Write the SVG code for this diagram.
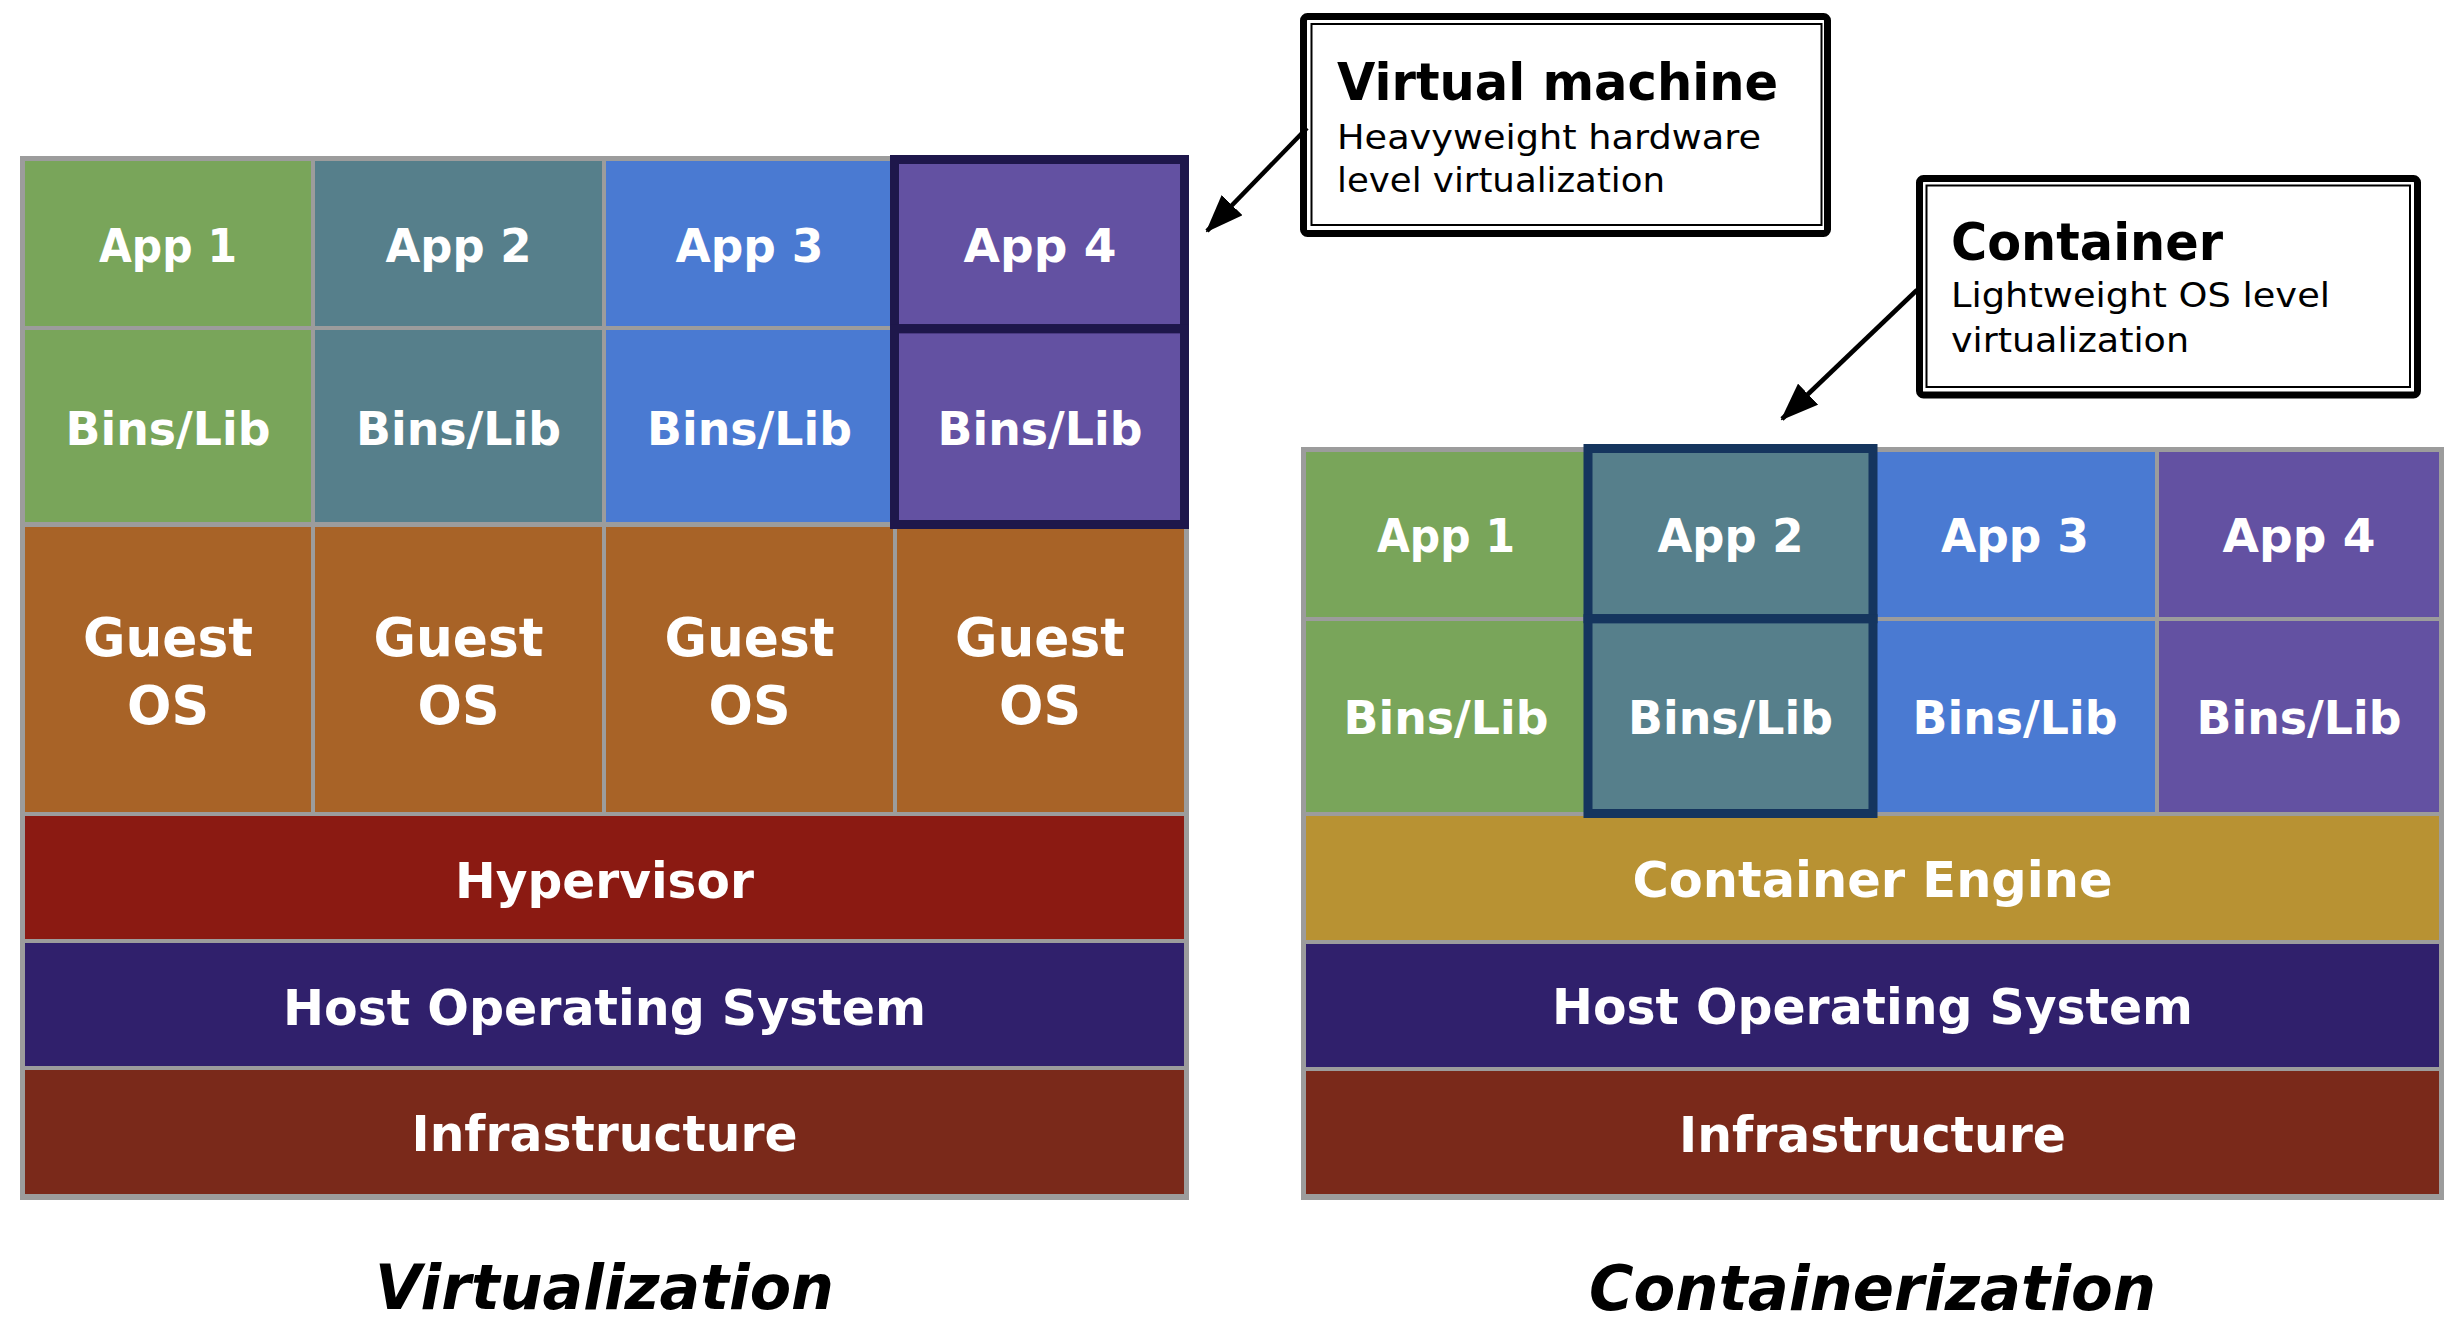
<svg xmlns="http://www.w3.org/2000/svg" width="2463" height="1328" viewBox="0 0 2463 1328">
<style>
.lbl{font-family:"DejaVu Sans","Liberation Sans",sans-serif;font-weight:bold;fill:#fff;text-anchor:middle}
.s47{font-size:47px}
.s53{font-size:53px}
.s50{font-size:50px}
.title{font-family:"DejaVu Sans","Liberation Sans",sans-serif;font-weight:bold;font-style:italic;font-size:62px;fill:#000;text-anchor:middle}
.ch{font-family:"DejaVu Sans","Liberation Sans",sans-serif;font-weight:bold;font-size:51px;fill:#000}
.cs{font-family:"DejaVu Sans","Liberation Sans",sans-serif;font-weight:normal;font-size:34px;fill:#000}
.grid{fill:#9c9c9c}
.green{fill:#79a55a}.teal{fill:#567f8b}.blue{fill:#4a7ad2}.purple{fill:#6351a2}
.guest{fill:#a86327}.hyp{fill:#8b1a12}.host{fill:#30206c}.infra{fill:#7a291a}.engine{fill:#b89233}
.hlA{fill:none;stroke:#1e174b;stroke-width:9}
.hlB{fill:none;stroke:#15355e;stroke-width:9}
.boxO{fill:#fff;stroke:#000;stroke-width:7}
.boxI{fill:none;stroke:#000;stroke-width:2}
.conn{fill:none;stroke:#000;stroke-width:4.5}
</style>
<defs>
<marker id="ah" viewBox="0 0 38 29" refX="36" refY="14.5" markerWidth="38" markerHeight="29" markerUnits="userSpaceOnUse" orient="auto">
<path d="M0,0 L38,14.5 L0,29 Z" fill="#000"/>
</marker>
</defs>
<rect width="2463" height="1328" fill="#fff"/>

<!-- Virtualization stack -->
<g id="virtualization">
<rect class="grid" x="20" y="156" width="1169" height="1044"/>
<g id="vm-app1"><rect class="green" x="25" y="161" width="286" height="165"/><text class="lbl s47" x="168" y="261.5" textLength="138" lengthAdjust="spacingAndGlyphs">App 1</text></g>
<g id="vm-app2"><rect class="teal" x="315" y="161" width="287" height="165"/><text class="lbl s47" x="458.5" y="261.5" textLength="146" lengthAdjust="spacingAndGlyphs">App 2</text></g>
<g id="vm-app3"><rect class="blue" x="606" y="161" width="287" height="165"/><text class="lbl s47" x="749.5" y="261.5" textLength="148" lengthAdjust="spacingAndGlyphs">App 3</text></g>
<g id="vm-app4"><rect class="purple" x="897" y="161" width="287" height="165"/><text class="lbl s47" x="1040" y="261.5" textLength="153" lengthAdjust="spacingAndGlyphs">App 4</text></g>
<g id="vm-bins1"><rect class="green" x="25" y="330" width="286" height="192"/><text class="lbl s47" x="168" y="445" textLength="205" lengthAdjust="spacingAndGlyphs">Bins/Lib</text></g>
<g id="vm-bins2"><rect class="teal" x="315" y="330" width="287" height="192"/><text class="lbl s47" x="458.5" y="445" textLength="205" lengthAdjust="spacingAndGlyphs">Bins/Lib</text></g>
<g id="vm-bins3"><rect class="blue" x="606" y="330" width="287" height="192"/><text class="lbl s47" x="749.5" y="445" textLength="205" lengthAdjust="spacingAndGlyphs">Bins/Lib</text></g>
<g id="vm-bins4"><rect class="purple" x="897" y="330" width="287" height="192"/><text class="lbl s47" x="1040" y="445" textLength="205" lengthAdjust="spacingAndGlyphs">Bins/Lib</text></g>
<g id="vm-guest1"><rect class="guest" x="25" y="527" width="286" height="285"/><text class="lbl s53" x="168" y="655.5" textLength="170" lengthAdjust="spacingAndGlyphs">Guest</text><text class="lbl s53" x="168" y="724" textLength="82" lengthAdjust="spacingAndGlyphs">OS</text></g>
<g id="vm-guest2"><rect class="guest" x="315" y="527" width="287" height="285"/><text class="lbl s53" x="458.5" y="655.5" textLength="170" lengthAdjust="spacingAndGlyphs">Guest</text><text class="lbl s53" x="458.5" y="724" textLength="82" lengthAdjust="spacingAndGlyphs">OS</text></g>
<g id="vm-guest3"><rect class="guest" x="606" y="527" width="287" height="285"/><text class="lbl s53" x="749.5" y="655.5" textLength="170" lengthAdjust="spacingAndGlyphs">Guest</text><text class="lbl s53" x="749.5" y="724" textLength="82" lengthAdjust="spacingAndGlyphs">OS</text></g>
<g id="vm-guest4"><rect class="guest" x="897" y="527" width="287" height="285"/><text class="lbl s53" x="1040" y="655.5" textLength="170" lengthAdjust="spacingAndGlyphs">Guest</text><text class="lbl s53" x="1040" y="724" textLength="82" lengthAdjust="spacingAndGlyphs">OS</text></g>
<g id="vm-hypervisor"><rect class="hyp" x="25" y="816" width="1159" height="123"/><text class="lbl s50" x="604.5" y="898" textLength="299" lengthAdjust="spacingAndGlyphs">Hypervisor</text></g>
<g id="vm-host"><rect class="host" x="25" y="943" width="1159" height="123"/><text class="lbl s50" x="604.5" y="1024.5" textLength="643" lengthAdjust="spacingAndGlyphs">Host Operating System</text></g>
<g id="vm-infra"><rect class="infra" x="25" y="1070" width="1159" height="124"/><text class="lbl s50" x="604.5" y="1151" textLength="386" lengthAdjust="spacingAndGlyphs">Infrastructure</text></g>
<g id="vm-highlight"><rect class="hlA" x="894.5" y="159.5" width="290" height="169.2"/><rect class="hlA" x="894.5" y="328.7" width="290" height="195.8"/></g>
<text class="title" x="604.5" y="1308.5" textLength="459" lengthAdjust="spacingAndGlyphs">Virtualization</text>
</g>

<!-- Containerization stack -->
<g id="containerization">
<rect class="grid" x="1301" y="447" width="1143" height="753"/>
<g id="ct-app1"><rect class="green" x="1306" y="452" width="280" height="165"/><text class="lbl s47" x="1446" y="551.7" textLength="138" lengthAdjust="spacingAndGlyphs">App 1</text></g>
<g id="ct-app2"><rect class="teal" x="1590" y="452" width="281" height="165"/><text class="lbl s47" x="1730.5" y="551.7" textLength="146" lengthAdjust="spacingAndGlyphs">App 2</text></g>
<g id="ct-app3"><rect class="blue" x="1875" y="452" width="280" height="165"/><text class="lbl s47" x="2015" y="551.7" textLength="148" lengthAdjust="spacingAndGlyphs">App 3</text></g>
<g id="ct-app4"><rect class="purple" x="2159" y="452" width="280" height="165"/><text class="lbl s47" x="2299" y="551.7" textLength="153" lengthAdjust="spacingAndGlyphs">App 4</text></g>
<g id="ct-bins1"><rect class="green" x="1306" y="621" width="280" height="191"/><text class="lbl s47" x="1446" y="733.7" textLength="205" lengthAdjust="spacingAndGlyphs">Bins/Lib</text></g>
<g id="ct-bins2"><rect class="teal" x="1590" y="621" width="281" height="191"/><text class="lbl s47" x="1730.5" y="733.7" textLength="205" lengthAdjust="spacingAndGlyphs">Bins/Lib</text></g>
<g id="ct-bins3"><rect class="blue" x="1875" y="621" width="280" height="191"/><text class="lbl s47" x="2015" y="733.7" textLength="205" lengthAdjust="spacingAndGlyphs">Bins/Lib</text></g>
<g id="ct-bins4"><rect class="purple" x="2159" y="621" width="280" height="191"/><text class="lbl s47" x="2299" y="733.7" textLength="205" lengthAdjust="spacingAndGlyphs">Bins/Lib</text></g>
<g id="ct-engine"><rect class="engine" x="1306" y="816" width="1133" height="124"/><text class="lbl s50" x="1872.5" y="897" textLength="480" lengthAdjust="spacingAndGlyphs">Container Engine</text></g>
<g id="ct-host"><rect class="host" x="1306" y="944" width="1133" height="123"/><text class="lbl s50" x="1872.5" y="1023.5" textLength="641" lengthAdjust="spacingAndGlyphs">Host Operating System</text></g>
<g id="ct-infra"><rect class="infra" x="1306" y="1071" width="1133" height="123"/><text class="lbl s50" x="1872.5" y="1151.5" textLength="387" lengthAdjust="spacingAndGlyphs">Infrastructure</text></g>
<g id="ct-highlight"><rect class="hlB" x="1588" y="448.5" width="285" height="170.2"/><rect class="hlB" x="1588" y="618.7" width="285" height="194.8"/></g>
<text class="title" x="1872.5" y="1310" textLength="567" lengthAdjust="spacingAndGlyphs">Containerization</text>
</g>

<!-- Callouts -->
<g id="callout-vm">
<rect class="boxO" x="1303.5" y="16.5" width="524" height="217" rx="4"/>
<rect class="boxI" x="1311.5" y="24" width="510" height="201"/>
<text class="ch" x="1337" y="100" textLength="441" lengthAdjust="spacingAndGlyphs">Virtual machine</text>
<text class="cs" x="1337" y="148.5" textLength="424" lengthAdjust="spacingAndGlyphs">Heavyweight hardware</text>
<text class="cs" x="1337" y="192" textLength="328" lengthAdjust="spacingAndGlyphs">level virtualization</text>
</g>
<g id="callout-container">
<rect class="boxO" x="1919.5" y="178.5" width="498" height="216.5" rx="4"/>
<rect class="boxI" x="1926.5" y="185.5" width="483.5" height="201.5"/>
<text class="ch" x="1951" y="260" textLength="272" lengthAdjust="spacingAndGlyphs">Container</text>
<text class="cs" x="1951" y="307" textLength="379" lengthAdjust="spacingAndGlyphs">Lightweight OS level</text>
<text class="cs" x="1951" y="352" textLength="238" lengthAdjust="spacingAndGlyphs">virtualization</text>
</g>

<!-- Connectors -->
<g id="connectors">
<path class="conn" d="M1307,128 L1207,231" marker-end="url(#ah)"/>
<path class="conn" d="M1917,290 L1782,419" marker-end="url(#ah)"/>
</g>
</svg>
